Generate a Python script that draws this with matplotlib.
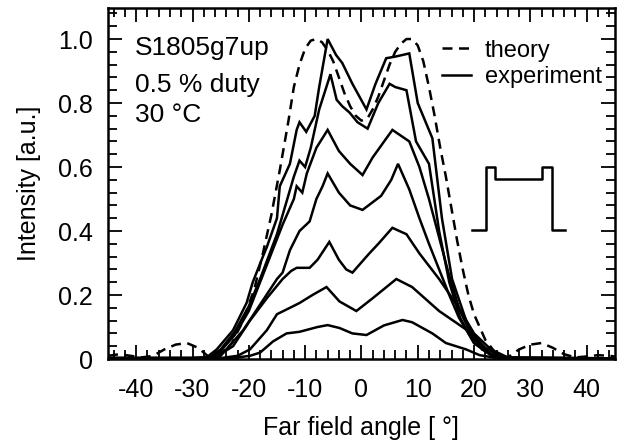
import matplotlib
matplotlib.use("Agg")
import matplotlib.pyplot as plt
from matplotlib.ticker import MultipleLocator, FixedLocator, FuncFormatter
from matplotlib.lines import Line2D

plt.rcParams['font.family'] = ['Liberation Sans', 'DejaVu Sans']
plt.rcParams['axes.unicode_minus'] = False

# ---- data ----
theory_x = [-45, -43, -41, -39, -37, -35, -33, -31, -29, -27, -25, -23, -21, -19, -17.5, -16, -14.5,
            -13, -12, -11, -10, -9, -8, -7, -6, -5, -4, -3, -2, -1, 0, 1, 2, 3, 4, 5, 6, 7, 8, 9,
            10, 11, 12, 13, 14, 15, 16, 17, 18, 19, 20, 22, 24, 26, 28, 30, 32, 34, 36, 38, 40, 42, 44, 45]
theory_y = [0.01, 0.015, 0.01, 0.005, 0.01, 0.03, 0.045, 0.05, 0.035, 0.005, 0.01, 0.05, 0.12, 0.22, 0.33,
            0.45, 0.59, 0.74, 0.85, 0.92, 0.97, 0.995, 1.0, 0.99, 0.965, 0.93, 0.88, 0.83, 0.79, 0.76,
            0.745, 0.75, 0.78, 0.82, 0.87, 0.92, 0.96, 0.985, 1.0, 1.0, 0.98, 0.93, 0.85, 0.76, 0.66,
            0.57, 0.47, 0.37, 0.28, 0.2, 0.14, 0.06, 0.015, 0.005, 0.03, 0.045, 0.05, 0.035, 0.015,
            0.005, 0.008, 0.012, 0.01, 0.008]

exp1_x = [-45, -30, -27.5, -25.7, -22.8, -20.4, -19.3, -17.5, -16.8, -15, -14.5, -12.7, -11.5, -11, -9.8,
          -8.3, -7.5, -6, -4.5, -3.4, -1.6, 0.9, 2.5, 4.4, 6, 8.5, 10, 12.6, 14.3, 16.1, 18.6, 21.4, 24, 27, 45]
exp1_y = [0.003, 0.003, 0.005, 0.03, 0.09, 0.175, 0.24, 0.32, 0.35, 0.44, 0.54, 0.61, 0.716, 0.74, 0.71,
          0.76, 0.85, 1.0, 0.95, 0.925, 0.86, 0.78, 0.86, 0.94, 0.945, 0.955, 0.80, 0.69, 0.44, 0.25,
          0.12, 0.03, 0.008, 0.002, 0.002]

exp2_x = [-45, -30, -27, -25, -22.5, -20, -18, -16.5, -15, -13.5, -12, -11, -10, -9, -7.5, -5.5, -4.4,
          -3.4, -2.1, -0.7, 1.1, 3, 5, 6, 8, 9.7, 12, 13.8, 15.6, 17.5, 20, 23, 26, 45]
exp2_y = [0.003, 0.003, 0.005, 0.03, 0.085, 0.165, 0.25, 0.32, 0.39, 0.48, 0.57, 0.62, 0.60, 0.66, 0.78,
          0.89, 0.81, 0.79, 0.77, 0.74, 0.72, 0.80, 0.86, 0.85, 0.84, 0.68, 0.61, 0.40, 0.24, 0.13,
          0.05, 0.012, 0.002, 0.002]

exp3_x = [-45, -30, -27, -25, -22.5, -20, -18, -16, -14, -12, -11.5, -10.5, -9.7, -8, -6, -4, -2, 0.2,
          2, 5.5, 8.5, 10.3, 12, 13.8, 15.6, 17.5, 20, 23, 26, 45]
exp3_y = [0.003, 0.003, 0.004, 0.025, 0.075, 0.15, 0.24, 0.33, 0.42, 0.50, 0.54, 0.52, 0.58, 0.66, 0.716,
          0.65, 0.61, 0.575, 0.63, 0.716, 0.68, 0.60, 0.50, 0.38, 0.26, 0.15, 0.06, 0.015, 0.002, 0.002]

exp4_x = [-45, -30, -27, -24, -21, -18, -15, -14, -12.7, -11, -9.2, -8, -6.9, -6, -4, -2, 0.2, 2, 3.5,
          5.3, 6.5, 8.5, 10.3, 12, 13.8, 15.6, 17.3, 20, 23, 26, 45]
exp4_y = [0.003, 0.003, 0.004, 0.03, 0.09, 0.17, 0.25, 0.27, 0.34, 0.40, 0.43, 0.50, 0.54, 0.58, 0.52,
          0.48, 0.466, 0.49, 0.51, 0.56, 0.61, 0.53, 0.44, 0.36, 0.28, 0.20, 0.13, 0.05, 0.012, 0.002, 0.002]

exp5_x = [-45, -28, -26, -22.8, -19.8, -16.8, -14, -12.5, -11.5, -9.2, -7.8, -5.7, -4, -2.7, -1.6, 1.4,
          3, 5.5, 8, 10.3, 13.8, 17.3, 20, 23, 26, 45]
exp5_y = [0.002, 0.002, 0.005, 0.04, 0.12, 0.19, 0.25, 0.275, 0.285, 0.285, 0.31, 0.366, 0.31, 0.28,
          0.27, 0.33, 0.36, 0.41, 0.39, 0.33, 0.25, 0.16, 0.08, 0.03, 0.005, 0.002]

exp6_x = [-45, -27, -25, -22, -19.8, -16.8, -15, -12.7, -11, -8.7, -6.2, -3.9, -0.9, 2, 6.2, 9, 13.8,
          19.6, 22, 25, 45]
exp6_y = [0.002, 0.002, 0.003, 0.01, 0.03, 0.09, 0.14, 0.16, 0.175, 0.2, 0.225, 0.18, 0.15, 0.19, 0.25,
          0.225, 0.15, 0.08, 0.035, 0.005, 0.002]

exp7_x = [-45, -25, -22, -19.8, -18, -15.7, -13.3, -11, -7.8, -6, -3.9, -1.6, 0.9, 4, 7.3, 9, 12.6, 15,
          18.6, 21, 24, 45]
exp7_y = [0.002, 0.002, 0.005, 0.01, 0.02, 0.055, 0.08, 0.085, 0.1, 0.106, 0.097, 0.08, 0.075, 0.105,
          0.122, 0.115, 0.08, 0.05, 0.03, 0.012, 0.003, 0.002]

pulse_x = [19.6, 22.1, 22.1, 23.7, 23.7, 32.0, 32.0, 33.8, 33.8, 36.1]
pulse_y = [0.403, 0.403, 0.6, 0.6, 0.5625, 0.5625, 0.6, 0.6, 0.403, 0.403]

x_ticks = [-40, -30, -20, -10, 0, 10, 20, 30, 40]
y_ticks = [0, 0.2, 0.4, 0.6, 0.8, 1.0]
info_lines = ["S1805g7up", "0.5 % duty", "30 °C"]
legend_labels = ["theory", "experiment"]

# ---- figure ----
fig = plt.figure(figsize=(6.21, 4.44), dpi=100)
ax = fig.add_axes([0.174, 0.1914, 0.816, 0.7906])

lw = 1.8
ax.plot(theory_x, theory_y, color='black', lw=lw, dashes=(4, 2.6))
for xs, ys in [(exp1_x, exp1_y), (exp2_x, exp2_y), (exp3_x, exp3_y), (exp4_x, exp4_y),
               (exp5_x, exp5_y), (exp6_x, exp6_y), (exp7_x, exp7_y)]:
    ax.plot(xs, ys, color='black', lw=lw, solid_joinstyle='miter')
ax.plot(pulse_x, pulse_y, color='black', lw=lw)

ax.set_xlim(-45, 45)
ax.set_ylim(0, 1.097)

ax.xaxis.set_major_locator(FixedLocator(x_ticks))
ax.xaxis.set_minor_locator(MultipleLocator(2))
ax.yaxis.set_major_locator(FixedLocator(y_ticks))
ax.yaxis.set_minor_locator(MultipleLocator(0.04))
ax.xaxis.set_major_formatter(FuncFormatter(lambda v, p: "%d" % round(v)))
ax.yaxis.set_major_formatter(FuncFormatter(lambda v, p: "0" if abs(v) < 1e-9 else "%.1f" % v))

ax.tick_params(which='both', direction='in', top=True, right=True, width=1.3, color='black')
ax.tick_params(which='major', length=10, labelsize=18)
ax.tick_params(which='minor', length=6.5)
ax.tick_params(axis='x', which='major', pad=14)
ax.tick_params(axis='y', which='major', pad=11)
for s in ax.spines.values():
    s.set_linewidth(1.8)

ax.set_xlabel("Far field angle [ °]", fontsize=18, labelpad=10)
ax.set_ylabel("Intensity [a.u.]", fontsize=18, labelpad=12)

for txt, yb in zip(info_lines, [0.95, 0.834, 0.74]):
    ax.text(-40.2, yb, txt, fontsize=19, va='baseline', ha='left')

handles = [Line2D([], [], color='black', lw=lw, dashes=(4, 2.6)),
           Line2D([], [], color='black', lw=lw)]
ax.legend(handles, legend_labels, loc='upper left', bbox_to_anchor=(0.66, 0.91),
          frameon=False, fontsize=17, handlelength=1.2, handletextpad=0.6,
          labelspacing=0.2, borderpad=0, borderaxespad=0)

fig.savefig("out.png", dpi=100)
